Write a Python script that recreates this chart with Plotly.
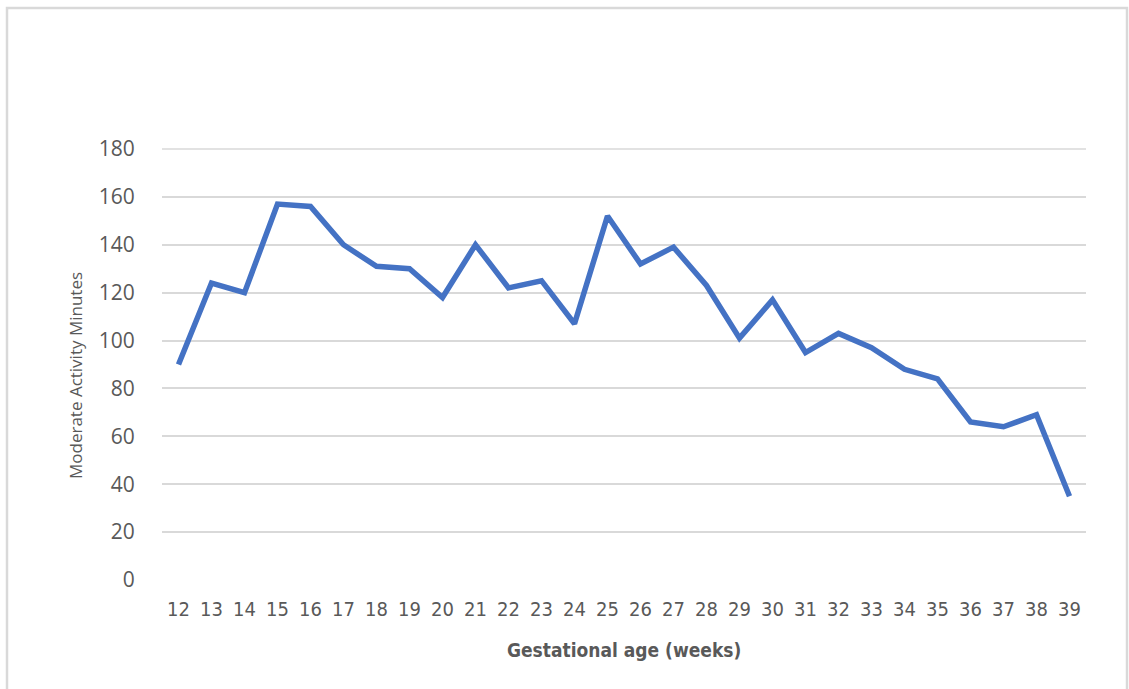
import plotly.graph_objects as go

# Gestational age in weeks and average moderate activity minutes per week
weeks = list(range(12, 40))
moderate_minutes = [90, 124, 120, 157, 156, 140, 131, 130, 118, 140,
                    122, 125, 107, 152, 132, 139, 123, 101, 117, 95,
                    103, 97, 88, 84, 66, 64, 69, 35]
y_ticks = [0, 20, 40, 60, 80, 100, 120, 140, 160, 180]

W, H = 1129, 689
L, R, T, B = 162, 43, 149, 109
pw, ph = W - L - R, H - T - B

NARROW = "DejaVu Sans Condensed, Roboto, sans-serif"

def px_x(p):
    return (p - L) / pw

def px_y(p):
    return (H - B - p) / ph

fig = go.Figure()
fig.add_trace(go.Scatter(
    x=weeks, y=moderate_minutes, mode="lines",
    line=dict(color="#4472C4", width=5.5, shape="linear"),
    hoverinfo="x+y", showlegend=False,
))

fig.update_layout(
    width=W, height=H,
    margin=dict(l=L, r=R, t=T, b=B),
    paper_bgcolor="white", plot_bgcolor="white",
    xaxis=dict(
        range=[11.5, 39.5], tickmode="array", tickvals=weeks,
        ticktext=[str(w) for w in weeks],
        showgrid=False, zeroline=False, showline=False,
        ticks="outside", ticklen=11, tickcolor="rgba(0,0,0,0)",
        tickfont=dict(family=NARROW, size=20, color="#595959"),
    ),
    yaxis=dict(
        range=[0, 180], tickmode="array", tickvals=y_ticks,
        showgrid=True, gridcolor="#D9D9D9", gridwidth=1.5,
        zeroline=False, showline=False,
        ticks="outside", ticklen=22, tickcolor="rgba(0,0,0,0)",
        tickfont=dict(family="Open Sans", size=21, color="#595959"),
    ),
    annotations=[
        dict(text="Moderate Activity Minutes", xref="paper", yref="paper",
             x=px_x(75), y=px_y(376), textangle=-90, showarrow=False,
             xanchor="center", yanchor="middle",
             font=dict(family="Open Sans", size=17, color="#595959")),
        dict(text="<b>Gestational age (weeks)</b>", xref="paper", yref="paper",
             x=px_x(624), y=px_y(650), showarrow=False,
             xanchor="center", yanchor="middle",
             font=dict(family=NARROW, size=19, color="#595959")),
    ],
    shapes=[
        # top gridline (value 180) at the upper edge of the plot area
        dict(type="line", xref="paper", yref="paper", x0=0, x1=1,
             y0=1, y1=1,
             line=dict(color="#D9D9D9", width=1.5), layer="below"),
        # chart area border
        dict(type="rect", xref="paper", yref="paper",
             x0=px_x(7), x1=px_x(1127), y0=px_y(8), y1=px_y(700),
             line=dict(color="#D9D9D9", width=2.5), fillcolor="rgba(0,0,0,0)",
             layer="below"),
    ],
)

fig.write_html("out.html")
